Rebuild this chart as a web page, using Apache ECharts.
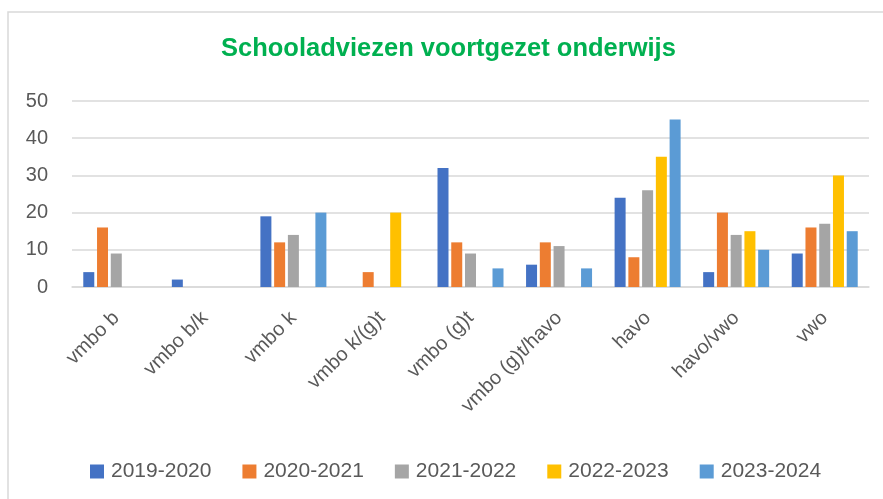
<!DOCTYPE html>
<html>
<head>
<meta charset="utf-8">
<script src="https://cdn.jsdelivr.net/npm/echarts@6/dist/echarts.min.js"></script>
<style>
  html, body { margin: 0; padding: 0; background: #fff; }
  #chart { width: 883px; height: 499px; }
</style>
</head>
<body>
<div id="chart"></div>
<script>
var categories = ['vmbo b', 'vmbo b/k', 'vmbo k', 'vmbo k/(g)t', 'vmbo (g)t',
    'vmbo (g)t/havo', 'havo', 'havo/vwo', 'vwo'];
var years = ['2019-2020', '2020-2021', '2021-2022', '2022-2023', '2023-2024'];
var colors = ['#4472C4', '#ED7D31', '#A5A5A5', '#FFC000', '#5B9BD5'];

var y2019 = [4, 2, 19, 0, 32, 6, 24, 4, 9];
var y2020 = [16, 0, 12, 4, 12, 12, 8, 20, 16];
var y2021 = [9, 0, 14, 0, 9, 11, 26, 14, 17];
var y2022 = [0, 0, 0, 20, 0, 0, 35, 15, 30];
var y2023 = [0, 0, 20, 0, 5, 5, 45, 10, 15];
var yTicks = [0, 10, 20, 30, 40, 50];

var values = [y2019, y2020, y2021, y2022, y2023];
var font = '"Liberation Sans", Arial, sans-serif';

var series = [];
for (var i = 0; i < years.length; ++i) {
    series.push({
        name: years[i],
        type: 'bar',
        data: values[i],
        barWidth: 11,
        barGap: '25%',
        itemStyle: { color: colors[i] }
    });
}

var chart = echarts.init(document.getElementById('chart'));
chart.setOption({
    animation: false,
    color: colors,
    title: {
        text: 'Schooladviezen voortgezet onderwijs',
        left: 221,
        top: 36,
        padding: 0,
        textStyle: {
            color: '#00B050',
            fontSize: 25.5,
            fontWeight: 'bold',
            fontFamily: font
        }
    },
    graphic: [{
        type: 'rect',
        shape: { x: 8, y: 12, width: 900, height: 600 },
        style: { fill: 'none', stroke: '#d9d9d9', lineWidth: 1.5 },
        silent: true
    }],
    legend: {
        data: years,
        left: 85,
        top: 456,
        icon: 'rect',
        itemWidth: 14,
        itemHeight: 14,
        itemGap: 31,
        textStyle: { color: '#595959', fontSize: 21, fontFamily: font, padding: [0, 0, 0, 2] }
    },
    grid: { left: 72, right: 14, top: 101, bottom: 212, containLabel: false },
    xAxis: {
        type: 'category',
        data: categories,
        axisTick: { show: false },
        axisLine: { lineStyle: { color: '#d9d9d9', width: 1.5 } },
        axisLabel: {
            rotate: 45,
            margin: 28,
            interval: 0,
            color: '#595959',
            fontSize: 20,
            fontFamily: font
        }
    },
    yAxis: {
        type: 'value',
        min: yTicks[0],
        max: yTicks[yTicks.length - 1],
        interval: 10,
        axisLine: { show: false },
        axisTick: { show: false },
        splitLine: { lineStyle: { color: '#d9d9d9', width: 1.5 } },
        axisLabel: {
            margin: 24,
            color: '#595959',
            fontSize: 20,
            fontFamily: font
        }
    },
    series: series
});
</script>
</body>
</html>
